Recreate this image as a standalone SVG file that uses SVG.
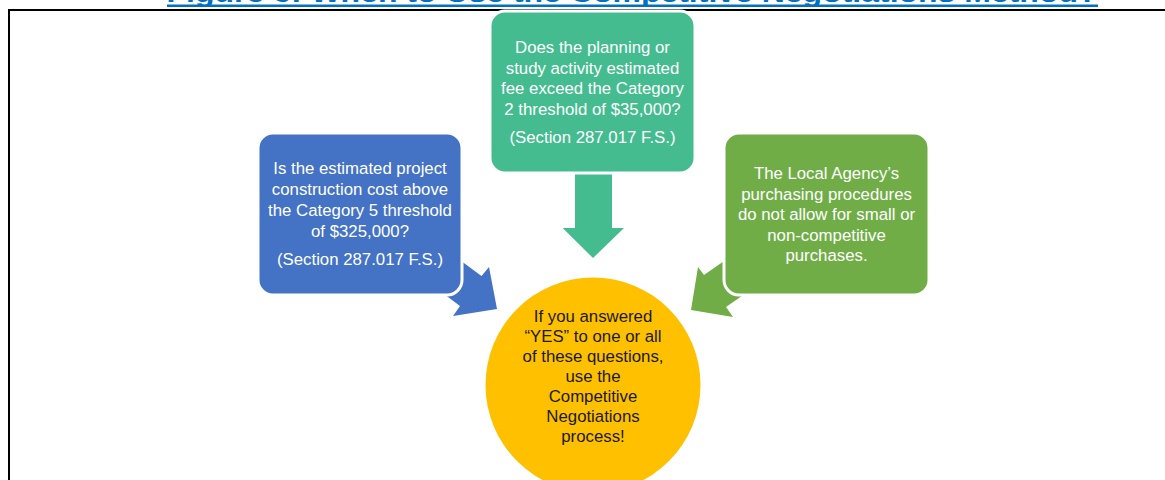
<svg xmlns="http://www.w3.org/2000/svg" width="1165" height="480" viewBox="0 0 1165 480">
<style>
.t{font-family:"Liberation Sans",Arial,sans-serif;font-size:16.8px;text-anchor:middle}
.w{fill:#ffffff}
.k{fill:#1a1a1a}
.box{stroke:#ffffff;stroke-width:3}
</style>
<rect width="1165" height="480" fill="#ffffff"/>
<g id="title">
<text x="632" y="2" font-family="Liberation Sans,Arial,sans-serif" font-weight="bold" font-size="26" fill="#0070C0" text-anchor="middle" textLength="931" lengthAdjust="spacingAndGlyphs">Figure 6: When to Use the Competitive Negotiations Method?</text>
<rect x="167" y="4.5" width="931" height="2.5" fill="#0070C0"/>
</g>
<path id="frame" d="M9,480 V10 H1165" fill="none" stroke="#000000" stroke-width="2"/>
<g id="connectors">
<path d="M449,252 L481.5,276 L489,267 L497,309 L453,316 L460,306 L428,282 Z" fill="#4472C4"/>
<path d="M737,252 L704,275 L698,267 L691,310 L733,317 L726,307 L759,284 Z" fill="#70AD47"/>
<path d="M575,172 H612 V228 H624 L593,258 L562.7,228 H575 Z" fill="#44BC8F"/>
</g>
<g id="node-top">
<rect class="box" x="490" y="11" width="205" height="162" rx="15" fill="#44BC8F"/>
<text class="t w" x="592.5" y="53">Does the planning or</text>
<text class="t w" x="592.5" y="74">study activity estimated</text>
<text class="t w" x="592.5" y="94">fee exceed the Category</text>
<text class="t w" x="592.5" y="115">2 threshold of $35,000?</text>
<text class="t w" x="592.5" y="143">(Section 287.017 F.S.)</text>
</g>
<g id="node-left">
<rect class="box" x="258" y="133" width="204" height="162" rx="15" fill="#4472C4"/>
<text class="t w" x="360" y="174">Is the estimated project</text>
<text class="t w" x="360" y="195">construction cost above</text>
<text class="t w" x="360" y="216">the Category 5 threshold</text>
<text class="t w" x="360" y="237">of $325,000?</text>
<text class="t w" x="360" y="265">(Section 287.017 F.S.)</text>
</g>
<g id="node-right">
<rect class="box" x="724" y="133" width="205" height="162" rx="15" fill="#70AD47"/>
<text class="t w" x="826.5" y="179">The Local Agency’s</text>
<text class="t w" x="826.5" y="200">purchasing procedures</text>
<text class="t w" x="826.5" y="220">do not allow for small or</text>
<text class="t w" x="826.5" y="241">non-competitive</text>
<text class="t w" x="826.5" y="261">purchases.</text>
</g>
<g id="node-center">
<circle cx="593" cy="385" r="107.5" fill="#FFC000"/>
<text class="t k" x="593" y="322">If you answered</text>
<text class="t k" x="593" y="342">“YES” to one or all</text>
<text class="t k" x="593" y="362">of these questions,</text>
<text class="t k" x="593" y="382">use the</text>
<text class="t k" x="593" y="402">Competitive</text>
<text class="t k" x="593" y="422">Negotiations</text>
<text class="t k" x="593" y="442">process!</text>
</g>
</svg>
